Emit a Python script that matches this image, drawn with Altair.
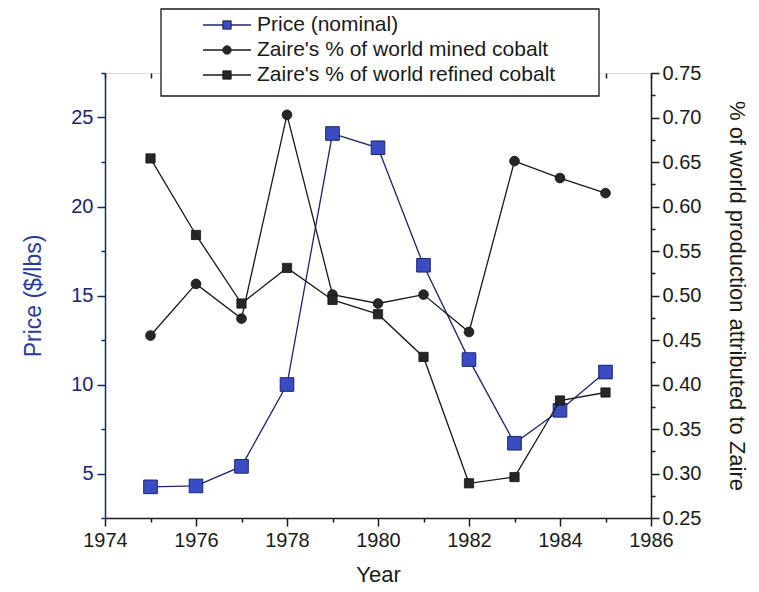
import altair as alt
import pandas as pd

# ---- data ----
years = [1975, 1976, 1977, 1978, 1979, 1980, 1981, 1982, 1983, 1984, 1985]
price_nominal = [4.25, 4.3, 5.4, 10.0, 24.1, 23.3, 16.7, 11.4, 6.7, 8.55, 10.7]
mined_share = [0.455, 0.513, 0.474, 0.703, 0.501, 0.491, 0.501, 0.459, 0.651, 0.632, 0.615]
refined_share = [0.654, 0.568, 0.491, 0.531, 0.495, 0.479, 0.431, 0.289, 0.296, 0.382, 0.391]

series_names = [
    "Price (nominal)",
    "Zaire's % of world mined cobalt",
    "Zaire's % of world refined cobalt",
]
x_ticks = list(range(1974, 1987))
left_ticks = [2.5 * i for i in range(1, 12)]
right_ticks = [round(0.25 + 0.025 * i, 3) for i in range(21)]

FONT = "Liberation Sans"
NAVY = "#1c2472"
BLUE = "#3a4cc2"
TITLE_BLUE = "#2b3a9c"
BLACK = "#1a1a1a"

df_price = pd.DataFrame({"year": years, "price": price_nominal})
df_mined = pd.DataFrame({"year": years, "share": mined_share})
df_refined = pd.DataFrame({"year": years, "share": refined_share})
df_legend = pd.DataFrame({"series": series_names, "row": [0, 1, 2]})

x_scale = alt.Scale(domain=[1974, 1986], nice=False, zero=False)

x_bottom = alt.X(
    "year:Q",
    scale=x_scale,
    axis=alt.Axis(
        orient="bottom",
        title="Year",
        values=x_ticks,
        format="d",
        labelExpr="datum.value % 2 === 0 ? datum.label : ''",
        tickSize={"condition": {"test": "datum.value % 2 === 0", "value": 8}, "value": 4},
        labelFontSize=20,
        titleFontSize=22,
        titleFontWeight="normal",
        labelPadding=4,
        titlePadding=14,
        labelFlush=False,
        labelOverlap=False,
        grid=False,
        domainColor=BLACK,
        tickColor=BLACK,
        labelColor=BLACK,
        titleColor=BLACK,
        domainWidth=1.5,
        tickWidth=1.5,
    ),
)

x_top = alt.X(
    "year:Q",
    scale=x_scale,
    axis=alt.Axis(
        orient="top",
        title=None,
        values=x_ticks,
        labels=False,
        domain=False,
        tickSize=5,
        offset=-5,
        grid=False,
        tickColor=BLACK,
        tickWidth=1.5,
    ),
)

y_left = alt.Y(
    "price:Q",
    scale=alt.Scale(domain=[2.5, 27.5], nice=False, zero=False),
    axis=alt.Axis(
        orient="left",
        title="Price ($/lbs)",
        values=left_ticks,
        format="~g",
        labelExpr="datum.value % 5 === 0 ? datum.label : ''",
        tickSize={"condition": {"test": "datum.value % 5 === 0", "value": 8}, "value": 4},
        labelFontSize=20,
        titleFontSize=23,
        titleFontWeight="normal",
        labelPadding=4,
        titlePadding=25,
        labelFlush=False,
        labelOverlap=False,
        grid=False,
        domainColor=NAVY,
        tickColor=NAVY,
        labelColor=NAVY,
        titleColor=TITLE_BLUE,
        domainWidth=1.5,
        tickWidth=1.5,
    ),
)

y_right = alt.Y(
    "share:Q",
    scale=alt.Scale(domain=[0.25, 0.75], nice=False, zero=False),
    axis=alt.Axis(
        orient="right",
        title="% of world production attributed to Zaire",
        values=right_ticks,
        format=".2f",
        labelExpr="round(datum.value * 1000) % 50 === 0 ? datum.label : ''",
        tickSize={"condition": {"test": "round(datum.value * 1000) % 50 === 0", "value": 8}, "value": 4},
        labelFontSize=20,
        titleFontSize=22,
        titleFontWeight="normal",
        labelPadding=3,
        titlePadding=24,
        labelFlush=False,
        labelOverlap=False,
        grid=False,
        domainColor=BLACK,
        tickColor=BLACK,
        labelColor=BLACK,
        titleColor=BLACK,
        domainWidth=1.5,
        tickWidth=1.5,
    ),
)

# ---- price (left axis) ----
price_line = alt.Chart(df_price).mark_line(color=NAVY, strokeWidth=1.3).encode(x=x_bottom, y=y_left)
price_pts = alt.Chart(df_price).mark_square(
    size=185, fill=BLUE, stroke=NAVY, strokeWidth=1, opacity=1
).encode(x=x_bottom, y=y_left)
price_layer = alt.layer(price_line, price_pts)

# ---- shares (right axis) ----
mined_line = alt.Chart(df_mined).mark_line(color=BLACK, strokeWidth=1.3).encode(x=x_top, y=y_right)
mined_pts = alt.Chart(df_mined).mark_circle(
    size=95, color="#262626", stroke="#111111", strokeWidth=0.8, opacity=1
).encode(x=x_top, y=y_right)
refined_line = alt.Chart(df_refined).mark_line(color=BLACK, strokeWidth=1.3).encode(x=x_top, y=y_right)
refined_pts = alt.Chart(df_refined).mark_square(
    size=85, color="#262626", stroke="#111111", strokeWidth=0.8, opacity=1
).encode(x=x_top, y=y_right)
share_layer = alt.layer(mined_line, refined_line, mined_pts, refined_pts)

# ---- legend (drawn as marks) ----
leg_y = alt.Y("row:Q", scale=alt.Scale(domain=[0, 2], range=[-48, 2]), axis=None)
leg_box = alt.Chart(alt.Data(values=[{}])).mark_rect(
    fill="white", stroke=BLACK, strokeWidth=1.3
).encode(
    x=alt.value(56), x2=alt.value(494), y=alt.value(-64), y2=alt.value(23)
)
leg_rule = alt.Chart(df_legend).mark_rule(strokeWidth=1.5).encode(
    x=alt.value(98),
    x2=alt.value(146),
    y=leg_y,
    color=alt.Color(
        "series:N",
        scale=alt.Scale(domain=series_names, range=[NAVY, BLACK, BLACK]),
        legend=None,
    ),
)
leg_sym = alt.Chart(df_legend).mark_point(filled=True, size=70, opacity=1, strokeWidth=0.8).encode(
    x=alt.value(122),
    y=leg_y,
    fill=alt.Fill(
        "series:N",
        scale=alt.Scale(domain=series_names, range=[BLUE, "#262626", "#262626"]),
        legend=None,
    ),
    shape=alt.Shape(
        "series:N",
        scale=alt.Scale(domain=series_names, range=["square", "circle", "square"]),
        legend=None,
    ),
    stroke=alt.value("#111111"),
)
leg_text = alt.Chart(df_legend).mark_text(
    align="left", baseline="middle", fontSize=21, font=FONT, color=BLACK
).encode(x=alt.value(152), y=leg_y, text="series:N")
legend_layer = alt.layer(leg_box, leg_rule, leg_sym, leg_text)

chart = (
    alt.layer(price_layer, share_layer, legend_layer)
    .resolve_scale(y="independent", color="independent", fill="independent", shape="independent")
    .resolve_axis(x="independent")
    .properties(
        width=546,
        height=445,
        padding={"left": 14, "top": 0, "right": 2, "bottom": 2},
    )
    .configure_view(stroke=BLACK, strokeWidth=1.5)
    .configure(font=FONT)
    .configure_axis(labelFont=FONT, titleFont=FONT)
)

chart.save("out.html", embed_options={"renderer": "svg", "actions": False})
